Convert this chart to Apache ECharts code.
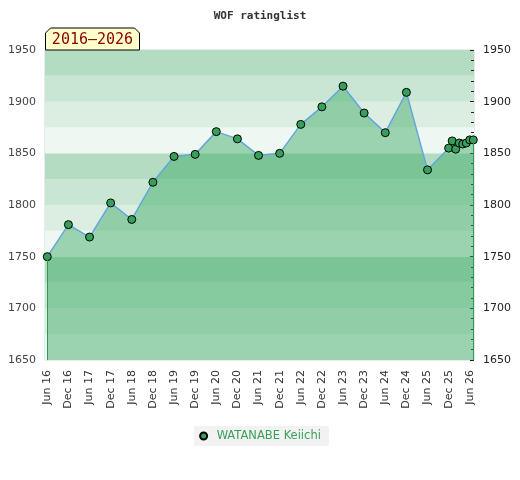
<!DOCTYPE html>
<html>
<head>
<meta charset="utf-8">
<script src="https://cdn.jsdelivr.net/npm/echarts@6/dist/echarts.min.js"></script>
<style>html,body{margin:0;padding:0;background:#fff}#c{width:520px;height:480px}</style>
</head>
<body>
<div id="c"></div>
<script>
const titleText = 'WOF ratinglist';
const periodText = '2016\u20132026';
const playerName = 'WATANABE Keiichi';
const dates = ['2016-06','2016-12','2017-06','2017-12','2018-06','2018-12','2019-06','2019-12',
  '2020-06','2020-12','2021-06','2021-12','2022-06','2022-12','2023-06','2023-12','2024-06','2024-12',
  '2025-06','2025-12','2026-01','2026-02','2026-03','2026-04','2026-05','2026-06','2026-07'];
const ratings = [1750,1781,1769,1802,1786,1822,1847,1849,1871,1864,1848,1850,1878,1895,1915,1889,1870,1909,
  1834,1855,1862,1854,1860,1859,1860,1863,1863];
const xTickDates = ['2016-06','2016-12','2017-06','2017-12','2018-06','2018-12','2019-06','2019-12',
  '2020-06','2020-12','2021-06','2021-12','2022-06','2022-12','2023-06','2023-12','2024-06','2024-12',
  '2025-06','2025-12','2026-06'];
const xTickLabels = ['Jun 16','Dec 16','Jun 17','Dec 17','Jun 18','Dec 18','Jun 19','Dec 19',
  'Jun 20','Dec 20','Jun 21','Dec 21','Jun 22','Dec 22','Jun 23','Dec 23','Jun 24','Dec 24',
  'Jun 25','Dec 25','Jun 26'];
const yMin = 1650, yMax = 1950, yStep = 50, bandStep = 25;
const xPadStart = 0.65, xPadEnd = 0.2; // months of padding on the x axis

// month index relative to the first date
const base = dates[0].split('-').map(Number);
function toMonth(s){ const p = s.split('-').map(Number); return (p[0]-base[0])*12 + (p[1]-base[1]); }
const seriesData = dates.map((d,i)=>[toMonth(d), ratings[i]]);
const tickMonths = xTickDates.map(toMonth);
const labelMap = {}; tickMonths.forEach((t,i)=>{ labelMap[t] = xTickLabels[i]; });
const first = seriesData[0], last = seriesData[seriesData.length-1];
const plain = v => String(v);

const chart = echarts.init(document.getElementById('c'), null, {renderer:'canvas'});
chart.setOption({
  animation:false,
  backgroundColor:'#ffffff',
  title:{text:titleText, left:'center', top:6,
    textStyle:{fontFamily:'DejaVu Sans Mono', fontSize:11, fontWeight:'bold', color:'#333'}},
  grid:{left:45, right:46, top:50, bottom:120, show:true, borderColor:'#d4d4d4', borderWidth:1, backgroundColor:'transparent'},
  legend:{data:[playerName], bottom:34, left:'center', backgroundColor:'#f2f2f2', padding:[4,8,4,5],
    icon:'circle', itemWidth:16, itemHeight:7,
    textStyle:{fontFamily:'DejaVu Sans', fontSize:11.5, color:'#3aa05a'}},
  xAxis:{type:'value', min:first[0]-xPadStart, max:last[0]+xPadEnd,
    axisLine:{show:false}, axisTick:{show:false}, splitLine:{show:false},
    axisLabel:{customValues:tickMonths, rotate:90, margin:10, fontFamily:'DejaVu Sans', fontSize:11, color:'#333',
      showMinLabel:true, showMaxLabel:true,
      formatter:function(v){ const k = Math.round(v); return labelMap[k] !== undefined ? labelMap[k] : ''; }}},
  yAxis:[
    {type:'value', position:'left', min:yMin, max:yMax, interval:yStep,
      axisLine:{show:false}, axisTick:{show:false}, splitLine:{show:false},
      axisLabel:{margin:9, fontFamily:'DejaVu Sans', fontSize:11, color:'#444', formatter:plain}},
    {type:'value', position:'right', min:yMin, max:yMax, interval:yStep,
      axisLine:{show:false}, splitLine:{show:false},
      axisTick:{show:true, inside:true, length:4, lineStyle:{color:'#222'}},
      minorTick:{show:true, splitNumber:5, length:3, lineStyle:{color:'#222'}},
      axisLabel:{margin:9, fontFamily:'DejaVu Sans', fontSize:11, color:'#222', formatter:plain}},
    {type:'value', position:'left', min:yMin, max:yMax, interval:bandStep,
      axisLine:{show:false}, axisTick:{show:false}, axisLabel:{show:false}, splitLine:{show:false},
      splitArea:{show:true, areaStyle:{color:['#eef7f1','#dcede2','#c8e6d3','#b3dcc3']}}}
  ],
  series:[{
    name:playerName, type:'line', data:seriesData, yAxisIndex:0,
    symbol:'circle', symbolSize:8,
    itemStyle:{color:'#36a05a', borderColor:'#000', borderWidth:1},
    lineStyle:{color:'#64a6dc', width:1.5},
    areaStyle:{color:'#31a75d', opacity:0.44, origin:'start'},
    z:3,
    markLine:{silent:true, symbol:['none','none'], label:{show:false},
      lineStyle:{type:'solid', color:'#2f9a55', width:1},
      data:[[{coord:[first[0], first[1]]},{coord:[first[0], yMin]}],
            [{coord:[last[0], last[1]]},{coord:[last[0], yMin]}]]}
  }],
  graphic:[
    {type:'polygon', z:100, shape:{points:[[45.5,50],[45.5,33],[50.5,28],[134.5,28],[139.5,33],[139.5,50]]},
      style:{fill:'#ffffcc', stroke:'#000', lineWidth:1}},
    {type:'text', z:101, x:92.5, y:40, style:{text:periodText, fill:'#8b0000', font:'15px "DejaVu Sans Mono"',
      textAlign:'center', textVerticalAlign:'middle'}}
  ]
});
</script>
</body>
</html>
